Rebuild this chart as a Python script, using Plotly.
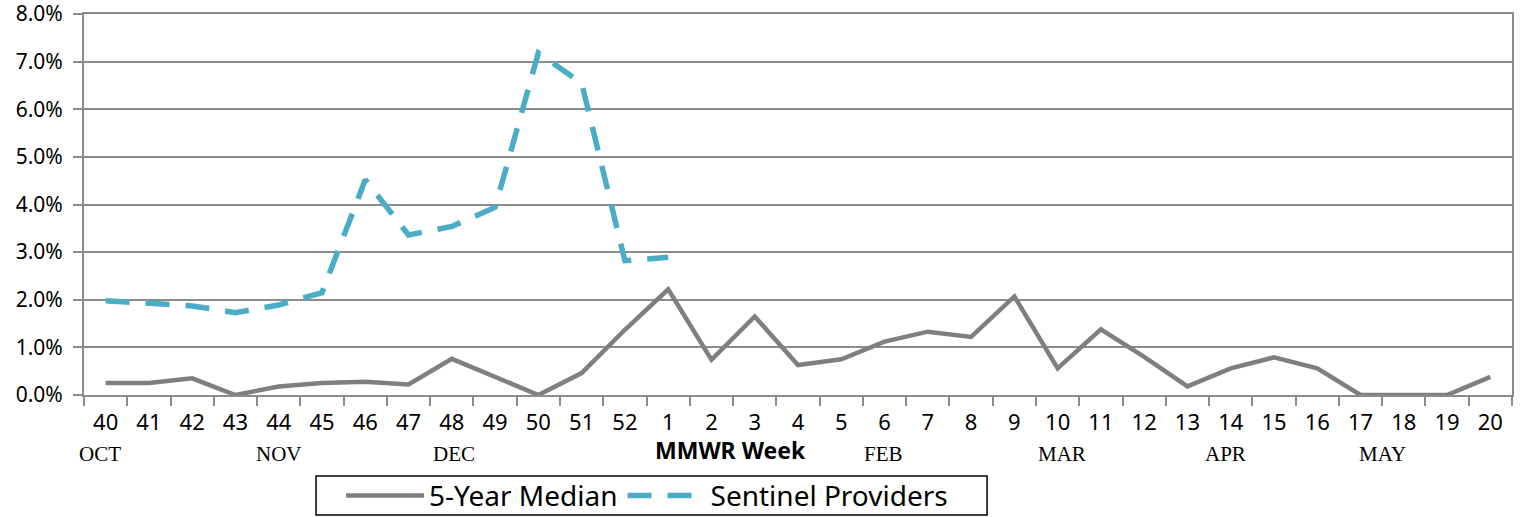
import plotly.graph_objects as go

weeks = ["40","41","42","43","44","45","46","47","48","49","50","51","52",
         "1","2","3","4","5","6","7","8","9","10","11","12","13","14","15","16","17","18","19","20"]

median_5yr = [0.25,0.25,0.35,0.0,0.18,0.25,0.28,0.22,0.76,0.38,0.0,0.46,1.37,
              2.22,0.74,1.65,0.63,0.75,1.12,1.33,1.22,2.07,0.56,1.38,0.80,0.18,0.56,0.79,0.56,0.0,0.0,0.0,0.38]

sentinel = [1.98,1.93,1.87,1.73,1.89,2.15,4.52,3.36,3.54,3.94,7.18,6.55,2.82,2.89]

y_ticks = [0, 1, 2, 3, 4, 5, 6, 7, 8]
y_tick_labels = ["0.0%","1.0%","2.0%","3.0%","4.0%","5.0%","6.0%","7.0%","8.0%"]

month_labels = ["OCT","NOV","DEC","FEB","MAR","APR","MAY"]
month_pos = [-0.13, 4.0, 8.05, 17.98, 22.1, 25.87, 29.5]

axis_title = "MMWR Week"

fig = go.Figure()
fig.add_trace(go.Scatter(
    x=weeks, y=median_5yr, mode="lines", name="5-Year Median",
    line=dict(color="#7f7f7f", width=4.5)))
fig.add_trace(go.Scatter(
    x=weeks[:len(sentinel)], y=sentinel, mode="lines", name="Sentinel Providers",
    line=dict(color="#4bacc6", width=5.5, dash="24px,16px")))

for lab, pos in zip(month_labels, month_pos):
    fig.add_annotation(x=pos, y=-0.155, xref="x", yref="paper", text=lab, showarrow=False,
                       font=dict(family="Liberation Serif", size=21, color="#000"),
                       xanchor="center", yanchor="middle")
fig.add_annotation(x=14.45, y=-0.145, xref="x", yref="paper", text="<b>" + axis_title + "</b>",
                   showarrow=False, font=dict(family="Noto Sans", size=23, color="#000"),
                   xanchor="center", yanchor="middle")

# legend frame
fig.add_shape(type="rect", xref="paper", yref="paper",
              x0=0.1625, x1=0.6324, y0=-0.2126, y1=-0.315,
              line=dict(color="#000", width=1.5), fillcolor="rgba(0,0,0,0)", layer="above")

fig.update_layout(
    width=1522, height=517,
    margin=dict(l=84, r=10, t=14, b=122, autoexpand=False),
    plot_bgcolor="white", paper_bgcolor="white",
    font=dict(family="Noto Sans", color="#000"),
    showlegend=True,
    legend=dict(orientation="h", x=0.18, xanchor="left", y=-0.199, yanchor="top",
                borderwidth=0, bgcolor="rgba(0,0,0,0)", font=dict(size=28),
                traceorder="normal", itemwidth=78),
)
fig.update_xaxes(type="category", range=[-0.5, 32.5], showgrid=False, automargin=False,
                 showline=True, linecolor="#8c8c8c", linewidth=2, mirror=True,
                 ticks="outside", tickson="boundaries", ticklen=9, tickcolor="#8c8c8c", tickwidth=2,
                 tickfont=dict(size=22, family="Noto Sans"), ticklabelstandoff=7)
fig.update_yaxes(range=[0, 8], tickvals=y_ticks, ticktext=y_tick_labels, automargin=False,
                 showgrid=True, gridcolor="#8c8c8c", gridwidth=1.5, ticklabeloverflow="allow",
                 showline=True, linecolor="#8c8c8c", linewidth=2, mirror=True,
                 ticks="outside", ticklen=9, tickcolor="#8c8c8c", tickwidth=2, ticklabelstandoff=6,
                 tickfont=dict(size=21, family="Noto Sans"), zeroline=False)

fig.write_html("out.html", config={"displayModeBar": False},
               post_script="document.body.style.margin='0';document.body.style.overflow='hidden';")
